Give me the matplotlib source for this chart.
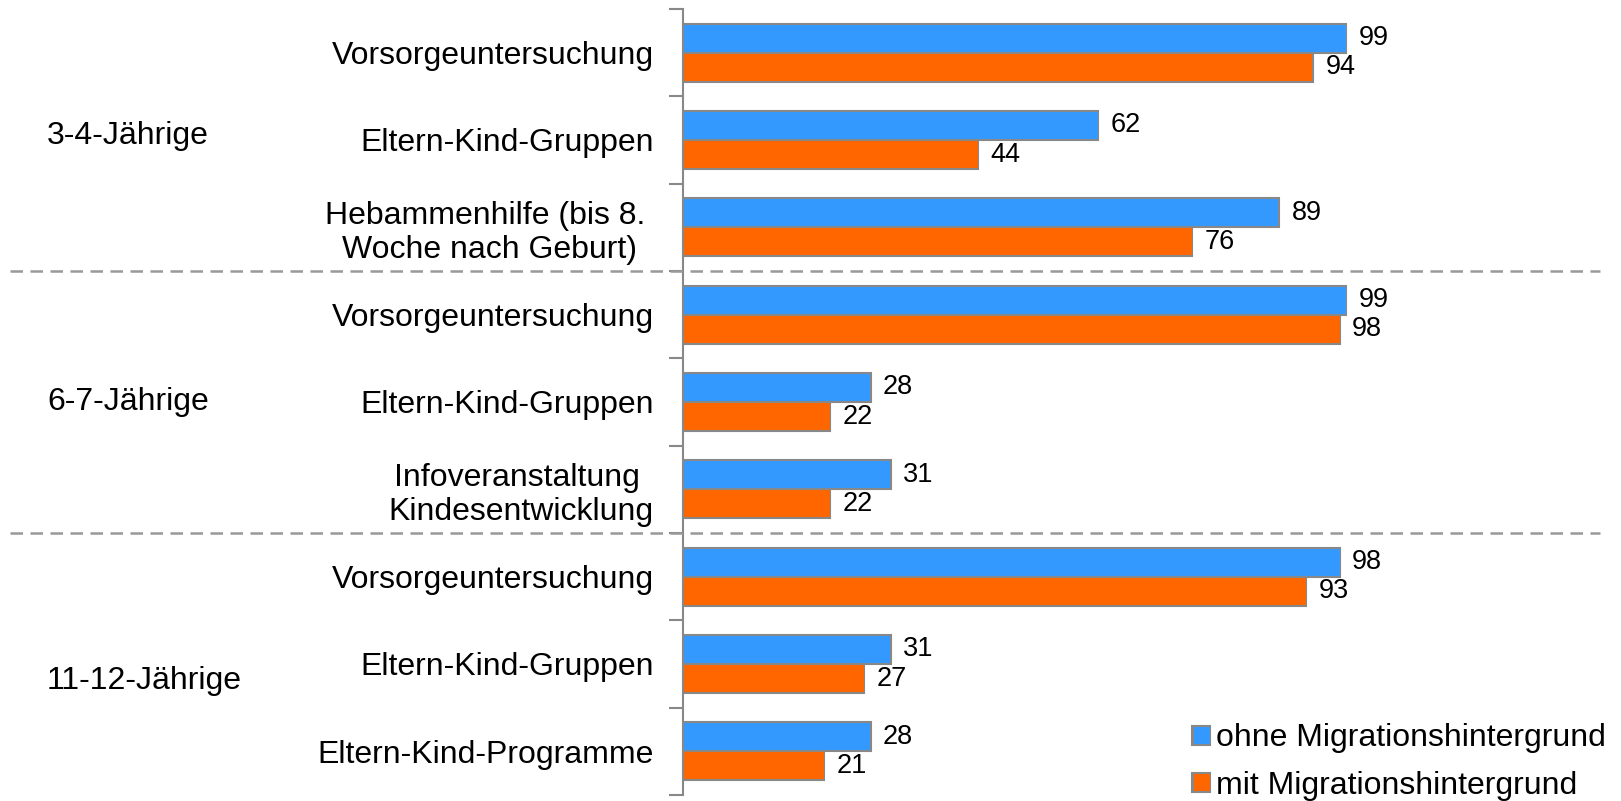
import matplotlib.pyplot as plt
import matplotlib.transforms as mtransforms
from matplotlib.lines import Line2D
import numpy as np

plt.rcParams['font.family'] = ['Liberation Sans', 'DejaVu Sans']

categories = ['Vorsorgeuntersuchung', 'Eltern-Kind-Gruppen', 'Hebammenhilfe (bis 8. \nWoche nach Geburt)',
              'Vorsorgeuntersuchung', 'Eltern-Kind-Gruppen', 'Infoveranstaltung \nKindesentwicklung',
              'Vorsorgeuntersuchung', 'Eltern-Kind-Gruppen', 'Eltern-Kind-Programme']
groups = ['3-4-Jährige', '6-7-Jährige', '11-12-Jährige']
group_label_pos = [1.45, 4.5, 7.7]  # where the group names sit (in category slots)
ohne = [99, 62, 89, 99, 28, 31, 98, 31, 28]
mit = [94, 44, 76, 98, 22, 22, 93, 27, 21]
series_names = ['ohne Migrationshintergrund', 'mit Migrationshintergrund']

blue = '#3399ff'
orange = '#ff6600'
grey = '#888888'

fig = plt.figure(figsize=(16.21, 8.01), dpi=100)
ax = fig.add_axes([683 / 1621, 1 - 795 / 801, (1600 - 683) / 1621, 786 / 801])

y = np.arange(len(categories)) + 0.5
h = 1 / 3
b1 = ax.barh(y - h / 2, ohne, height=h, color=blue, edgecolor=grey, linewidth=1.5, label=series_names[0])
b2 = ax.barh(y + h / 2, mit, height=h, color=orange, edgecolor=grey, linewidth=1.5, label=series_names[1])

for bars, vals in [(b1, ohne), (b2, mit)]:
    for bar, v in zip(bars, vals):
        ax.annotate(str(v), (bar.get_width(), bar.get_y() + bar.get_height() / 2),
                    xytext=(9, 0), textcoords='offset points', va='center', ha='left', fontsize=19.5)

ax.set_xlim(0, 917 / 6.70)
ax.set_ylim(len(categories), 0)

# tick marks at the slot borders, labels at the centres
ax.set_yticks(np.arange(len(categories) + 1))
ax.set_yticklabels([])
ax.set_yticks(y, minor=True)
ax.set_yticklabels(categories, minor=True, fontsize=23)
for lbl in ax.get_yticklabels(minor=True):
    lbl.set_multialignment('center')
ax.tick_params(axis='y', which='major', length=10, width=1.5, color=grey)
ax.tick_params(axis='y', which='minor', length=0, pad=21)
ax.set_xticks([])

for s in ['top', 'right', 'bottom']:
    ax.spines[s].set_visible(False)
ax.spines['left'].set_color(grey)
ax.spines['left'].set_linewidth(1.5)

# dashed separators between age groups
trans = mtransforms.blended_transform_factory(fig.transFigure, ax.transData)
for yy in [3, 6]:
    fig.add_artist(Line2D([10 / 1621, 1600 / 1621], [yy, yy], transform=trans, color='#999999',
                          linewidth=1.8, linestyle=(0, (5, 3))))

for g, gy in zip(groups, group_label_pos):
    fig.text(47 / 1621, gy, g, transform=trans, ha='left', va='center', fontsize=23)

ax.legend(loc='lower right', bbox_to_anchor=(1606 / 1621, 0), bbox_transform=fig.transFigure,
          frameon=False, fontsize=23, handlelength=0.55, handleheight=0.55, handletextpad=0.2,
          labelspacing=0.55, borderpad=0, borderaxespad=0)

fig.savefig('out.png', dpi=100)
